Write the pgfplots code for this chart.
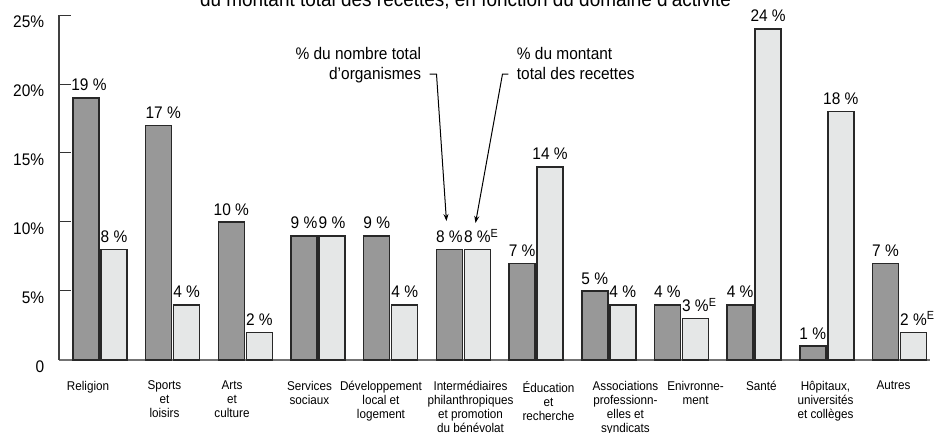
\documentclass[border=0pt]{standalone}
\usepackage{fontspec}
\setmainfont{Liberation Sans}[FakeStretch=0.92]
\usepackage{pgfplots}
\pgfplotsset{compat=1.18}
\usetikzlibrary{arrows.meta}
\definecolor{darkbar}{RGB}{152,152,152}
\definecolor{lightbar}{RGB}{229,231,231}
\definecolor{edge}{RGB}{40,40,40}
\newcommand\vfont{\fontsize{8.4}{9.8}\selectfont}
\newcommand\cfont{\fontsize{6.35}{7}\selectfont}
\newcommand\tfont{\fontsize{10.3}{12}\selectfont}
\begin{document}
\begin{tikzpicture}
\begin{axis}[
  at={(0,0)}, anchor=south west,
  scale only axis, width=435.5pt, height=172.5pt,
  xmin=-0.564, xmax=11.42, ymin=0, ymax=25,
  axis x line*=bottom, axis y line*=left,
  axis line style={-},
  x axis line style={draw=black!55, line width=0.8pt},
  y axis line style={draw=black!75, line width=0.6pt},
  ybar=1pt, bar width=13pt,
  ytick={0,5,10,15,20,25},
  yticklabels={0,5\%,10\%,15\%,20\%,25\%},
  yticklabel style={font=\vfont, anchor=east, inner sep=0pt, xshift=-7.25pt, yshift=-3.4pt},
  tick align=inside,
  major tick length=6pt,
  y tick style={draw=black!80, line width=0.5pt},
  xtick={-0.165,0.887,1.816,2.882,3.866,5.098,6.171,7.230,8.194,9.101,9.982,10.918},
  xticklabels={{Religion},{Sports\\et\\loisirs},{Arts\\et\\culture},{Services\\sociaux},{Développement\\local et\\logement},{Intermédiaires\\philanthropiques\\et promotion\\du bénévolat},{Éducation\\et\\recherche},{Associations\\professionn-\\elles et\\syndicats},{Enivronne-\\ment},{Santé},{Hôpitaux,\\universités\\et collèges},{Autres}},
  x tick style={draw=none},
  xticklabel style={font=\cfont, align=center, anchor=north, inner sep=0pt, yshift=-10.3pt},
  point meta=explicit symbolic,
  nodes near coords,
  every node near coord/.append style={font=\vfont, anchor=south, inner sep=0pt, yshift=3pt, text=black},
  clip=false,
]
\addplot[fill=darkbar, draw=edge, line width=0.75pt] coordinates {
  (0,19) [\hspace{3pt}19~\%]
  (1,17) [\hspace{4.5pt}17~\%]
  (2,10) [10~\%]
  (3,9) [9~\%]
  (4,9) [9~\%]
  (5,8) [8~\%]
  (6,7) [7~\%]
  (7,5) [5~\%]
  (8,4) [4~\%]
  (9,4) [4~\%]
  (10,1) [1~\%]
  (11,7) [7~\%]
};
\addplot[fill=lightbar, draw=edge, line width=0.75pt] coordinates {
  (0,8) [8~\%]
  (1,4) [4~\%]
  (2,2) [2~\%]
  (3,9) [9~\%]
  (4,4) [4~\%]
  (5,8) [8~\%\rlap{\textsuperscript{E}}]
  (6,14) [14~\%]
  (7,4) [4~\%]
  (8,3) [3~\%\rlap{\textsuperscript{E}}]
  (9,24) [24~\%]
  (10,18) [18~\%]
  (11,2) [2~\%\rlap{\textsuperscript{E}}]
};
\draw[line width=0.5pt, -{Stealth[length=3.5pt,width=2.5pt]}] (axis cs:4.534,20.72) -- (axis cs:4.630,20.72) -- (axis cs:4.767,10.07);
\draw[line width=0.5pt, -{Stealth[length=3.5pt,width=2.5pt]}] (axis cs:5.620,20.72) -- (axis cs:5.538,20.72) -- (axis cs:5.167,9.93);
\node[font=\vfont, anchor=base east, inner sep=0pt] at (axis cs:4.423,21.74) {\% du nombre total};
\node[font=\vfont, anchor=base east, inner sep=0pt] at (axis cs:4.423,20.36) {d’organismes};
\node[font=\vfont, anchor=base west, inner sep=0pt] at (axis cs:5.731,21.74) {\% du montant};
\node[font=\vfont, anchor=base west, inner sep=0pt] at (axis cs:5.731,20.36) {total des recettes};
\node[font=\tfont, anchor=base, inner sep=0pt] at (axis cs:5.029,25.65) {du montant total des recettes, en fonction du domaine d’activité};
\end{axis}
\pgfresetboundingbox
\useasboundingbox (-29.5pt,-36.5pt) rectangle (442pt,180pt);
\end{tikzpicture}
\end{document}
